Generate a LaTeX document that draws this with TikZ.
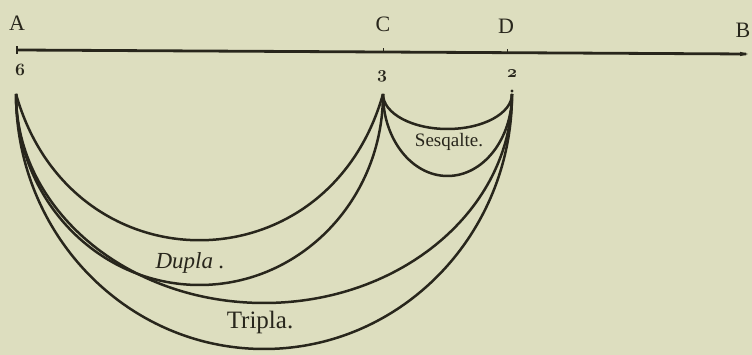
\documentclass[tikz,border=0pt]{standalone}
\usepackage{fontspec}
\setmainfont{Liberation Serif}
\usepackage{tikz}
\definecolor{paper}{RGB}{221,222,191}
\definecolor{ink}{RGB}{40,38,28}
\newcommand{\osn}[1]{{\usefont{OML}{cmm}{b}{it}#1}}
\begin{document}
\begin{tikzpicture}[x=1pt,y=1pt,
  arcline/.style={draw=ink,line width=2.5pt},
  letter/.style={text=ink,font=\fontsize{22}{24}\selectfont,inner sep=0pt},
  num/.style={text=ink,font=\fontsize{18}{20}\selectfont,inner sep=0pt},
  lbl/.style={text=ink,inner sep=0pt}]
\fill[paper] (0,0) rectangle (752,355);
\useasboundingbox (0,0) rectangle (752,355);
% main line
\coordinate (lA) at (17,305);
\coordinate (lB) at (746,301);
\coordinate (tC) at (383,303);
\coordinate (tD) at (507,302.3);
\draw[draw=ink,line width=2.8pt] (lA) -- (lB);
\draw[draw=ink,line width=1.2pt] ([yshift=-4]lA) -- ([yshift=4]lA);
\draw[draw=ink,line width=1pt] (tC) -- ([yshift=3.5]tC);
\draw[draw=ink,line width=1pt] (tD) -- ([yshift=3.5]tD);
\fill[ink] ([xshift=2]lB) -- ([xshift=-6,yshift=-2.2]lB) -- ([xshift=-6,yshift=2.2]lB) -- cycle;
% letters
\node[letter] (A) at (17,332) {A};
\node[letter] (C) at (383,331) {C};
\node[letter] (D) at (506,329) {D};
\node[letter] (B) at (743,325) {B};
\node[num] (n6) at (20,285) {\osn{6}};
\node[num] (n3) at (382,279) {\osn{3}};
\node[num] (n2) at (512,281) {\osn{2}};
\fill[ink] (512,264) circle (1.7pt);
% arc points
\coordinate (pA) at (16,261);
\coordinate (pC) at (383,261);
\coordinate (pD) at (512,261);
% A-C arcs
\draw[arcline] (pA) .. controls +(55,-195) and +(-55,-195) .. (pC);
\draw[arcline] (pA) arc[start angle=180,end angle=360,x radius=183.5pt,y radius=191pt];
% A-D arcs
\draw[arcline] (pA) arc[start angle=180,end angle=360,x radius=248pt,y radius=209pt];
\draw[arcline] (pA) arc[start angle=180,end angle=360,x radius=248pt,y radius=255pt];
% C-D arcs
\draw[arcline] (pC) arc[start angle=180,end angle=360,x radius=64.5pt,y radius=35pt];
\draw[arcline] (pC) arc[start angle=180,end angle=360,x radius=64.5pt,y radius=82pt];
% labels
\node[lbl,font=\fontsize{23}{26}\selectfont\itshape] (dupla) at (190,92) {Dupla .};
\node[lbl,font=\fontsize{25}{28}\selectfont] (tripla) at (260,33) {Tripla.};
\node[lbl,font=\fontsize{19}{21}\selectfont] (sesq) at (449,213) {Sesqalte.};
\end{tikzpicture}
\end{document}
